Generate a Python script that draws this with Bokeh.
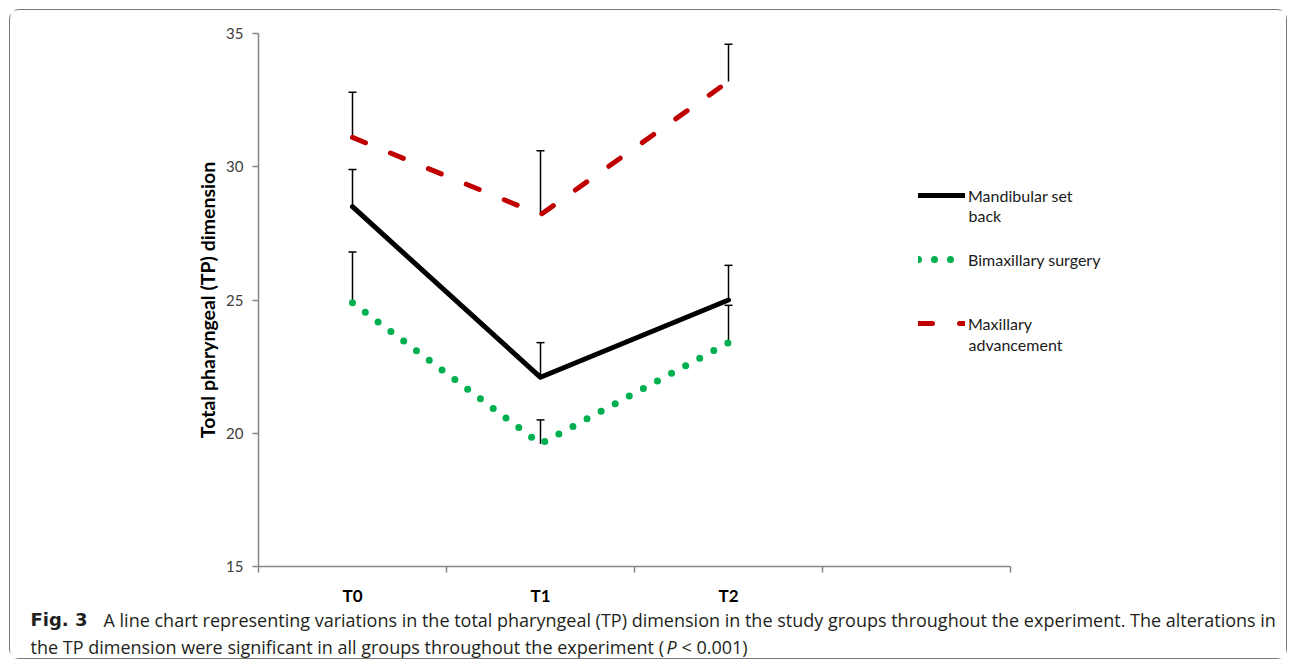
from bokeh.plotting import figure
from bokeh.layouts import column
from bokeh.models import (Range1d, FixedTicker, Whisker, TeeHead, ColumnDataSource,
                          Legend, LegendItem, Label)
from bokeh.embed import file_html
from bokeh.resources import INLINE

# ---- data ----
categories = ["T0", "T1", "T2"]
n_slots = 4
mandibular = [28.5, 22.1, 25.0]
mandibular_sd = [1.4, 1.3, 1.3]
bimaxillary = [24.9, 19.6, 23.4]
bimaxillary_sd = [1.9, 0.9, 1.4]
maxillary = [31.1, 28.2, 33.2]
maxillary_sd = [1.7, 2.4, 1.4]
y_ticks = [15, 20, 25, 30, 35]
series_labels = ["Mandibular set", "Bimaxillary surgery", "Maxillary"]
series_label_cont = ["back", None, "advancement"]
y_title = "Total pharyngeal (TP) dimension"
caption_bold = "Fig. 3"
caption_line1 = "A line chart representing variations in the total pharyngeal (TP) dimension in the study groups throughout the experiment. The alterations in"
caption_line2 = "the TP dimension were significant in all groups throughout the experiment ("
caption_p = "P"
caption_end = "< 0.001)"

x = [i + 0.5 for i in range(len(categories))]
bounds = list(range(n_slots + 1))

FONT = "Lato"
CAP_FONT = "Open Sans"

W = 1276
LEFT, RIGHT, TOP, BOTTOM = 248, 10, 23, 40
FRAME_W = W - LEFT - RIGHT
AXIS_PX = 752  # pixel length of the category axis
x_end = n_slots * FRAME_W / AXIS_PX

p = figure(width=W, height=598, x_range=Range1d(0, x_end), y_range=Range1d(15, 35),
           output_backend="svg", toolbar_location=None,
           min_border_left=LEFT, min_border_right=RIGHT, min_border_top=TOP, min_border_bottom=BOTTOM)
p.outline_line_color = None
p.xgrid.visible = False
p.ygrid.visible = False

# x axis
xa = p.xaxis[0]
xa.bounds = (0, n_slots)
xa.ticker = FixedTicker(ticks=x, minor_ticks=bounds)
xa.major_label_overrides = {xi: c for xi, c in zip(x, categories)}
xa.major_tick_line_color = None
xa.major_tick_in = 0
xa.major_tick_out = 0
xa.minor_tick_in = 0
xa.minor_tick_out = 6
xa.minor_tick_line_color = "#868686"
xa.minor_tick_line_width = 1.5
xa.axis_line_color = "#868686"
xa.axis_line_width = 1.5
xa.major_label_text_font = FONT
xa.major_label_text_font_style = "bold"
xa.major_label_text_font_size = "17px"
xa.major_label_text_color = "#000000"
xa.major_label_standoff = 12

# y axis
ya = p.yaxis[0]
ya.ticker = FixedTicker(ticks=y_ticks)
ya.major_tick_in = 0
ya.major_tick_out = 6
ya.major_tick_line_color = "#868686"
ya.major_tick_line_width = 1.5
ya.minor_tick_line_color = None
ya.axis_line_color = "#868686"
ya.axis_line_width = 1.5
ya.major_label_text_font = FONT
ya.major_label_text_font_size = "15px"
ya.major_label_text_color = "#404040"
ya.major_label_standoff = 9
ya.axis_label = y_title
ya.axis_label_text_font = FONT
ya.axis_label_text_font_style = "bold"
ya.axis_label_text_font_size = "19.5px"
ya.axis_label_text_color = "#000000"
ya.axis_label_standoff = 4

# series
r_mand = p.line(x, mandibular, line_color="#000000", line_width=5, line_cap="round", line_join="round")
r_bi = p.line(x, bimaxillary, line_color="#00B050", line_width=7, line_cap="round",
              line_dash="0 16", line_join="round")
r_max = p.line(x, maxillary, line_color="#C00000", line_width=5, line_cap="round",
               line_dash="14 27", line_join="round")

# error bars (upper only)
for vals, sds in [(mandibular, mandibular_sd), (bimaxillary, bimaxillary_sd), (maxillary, maxillary_sd)]:
    src = ColumnDataSource(dict(base=x, lower=vals, upper=[v + s for v, s in zip(vals, sds)]))
    w = Whisker(source=src, base="base", lower="lower", upper="upper", dimension="height",
                line_color="#000000", line_width=1.5,
                upper_head=TeeHead(size=8, line_color="#000000", line_width=1.5),
                lower_head=None)
    p.add_layout(w)

legend = Legend(items=[LegendItem(label=series_labels[0], renderers=[r_mand]),
                       LegendItem(label=series_labels[1], renderers=[r_bi]),
                       LegendItem(label=series_labels[2], renderers=[r_max])],
                location=(660, 233), orientation="vertical",
                glyph_width=47, glyph_height=20, label_height=20, label_standoff=3,
                padding=0, margin=0, spacing=44,
                border_line_color=None, background_fill_alpha=0,
                label_text_font=FONT, label_text_font_size="16px", label_text_color="#1a1a1a")
p.add_layout(legend)

# second lines of the wrapped legend labels
leg_kw = dict(x_units="screen", y_units="screen", text_font=FONT, text_font_size="16px",
              text_color="#1a1a1a", text_baseline="middle")
p.add_layout(Label(x=710, y=351, text=series_label_cont[0], **leg_kw))
p.add_layout(Label(x=710, y=222, text=series_label_cont[2], **leg_kw))

# caption panel
cap = figure(width=W, height=50, x_range=Range1d(0, W), y_range=Range1d(0, 50),
             output_backend="svg", toolbar_location=None, x_axis_type=None, y_axis_type=None,
             min_border=0)
cap.outline_line_color = None
cap_kw = dict(x_units="screen", y_units="screen", text_font_size="18px",
              text_color="#231f20", text_baseline="middle")
cap.add_layout(Label(x=20, y=39, text=caption_bold, text_font="DejaVu Sans",
                     text_font_style="bold", **cap_kw))
cap.add_layout(Label(x=93, y=39, text=caption_line1, text_font=CAP_FONT, **cap_kw))
cap.add_layout(Label(x=20, y=12, text=caption_line2, text_font=CAP_FONT, **cap_kw))
cap.add_layout(Label(x=656, y=12, text=caption_p, text_font=CAP_FONT,
                     text_font_style="italic", **cap_kw))
cap.add_layout(Label(x=671, y=12, text=caption_end, text_font=CAP_FONT, **cap_kw))

layout = column(column(p), column(cap), spacing=0,
                styles={"border": "1px solid #777777", "border-radius": "10px",
                        "margin-left": "9px", "margin-top": "9px"})

open("out.html", "w").write(file_html(layout, INLINE))
